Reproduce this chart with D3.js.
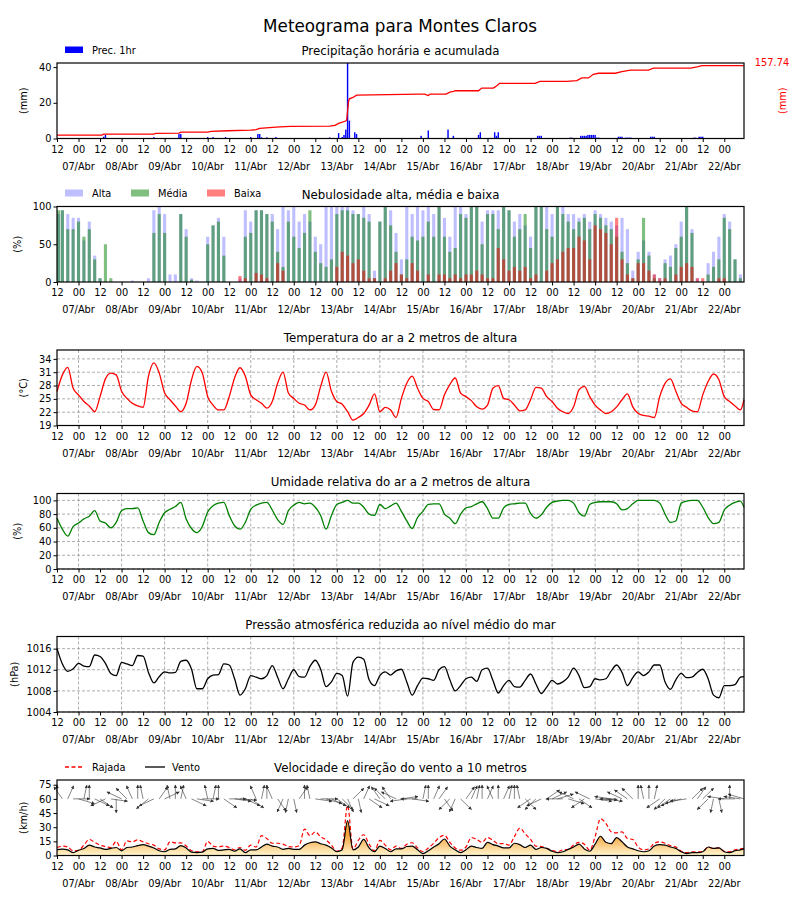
<!DOCTYPE html>
<html><head><meta charset="utf-8">
<script src="https://cdn.jsdelivr.net/npm/d3@7"></script>
<style>body{margin:0;background:#fff} svg text{font-family:"DejaVu Sans",sans-serif}</style>
</head><body><svg id="c" width="800" height="900"></svg>
<script>
// ---------------- DATA ----------------
// time axis: hours since 06/Abr 12Z
const hours = d3.range(0, 382, 3).concat([383]);
const tickHours = d3.range(0, 384, 12);
const hourLabels = tickHours.map((h, i) => i % 2 === 0 ? "12" : "00");
const dayLabels = ["07/Abr","08/Abr","09/Abr","10/Abr","11/Abr","12/Abr","13/Abr","14/Abr","15/Abr","16/Abr","17/Abr","18/Abr","19/Abr","20/Abr","21/Abr","22/Abr"];

// hourly precipitation (mm)
const precHours = [26,27,54,68,69,84,87,94,108,112,113,114,117,122,152,157,159,160,161,162,163,166,167,203,207,218,221,235,236,244,245,246,268,269,270,286,287,292,293,294,295,296,297,298,299,300,301,302,313,314,315,317,318,319,320,331,332,333,355,356,358,359,360];
const precVals  = [1,2,0.8,2.5,2.5,0.8,0.8,0.8,0.8,2.5,2.5,0.7,0.7,0.8,0.6,3,0.8,2,5,42.3,10,3.5,2.5,1.5,4.5,5,1.5,2,3.5,3.5,1.5,3.5,1.5,1.5,1.5,0.5,0.5,1.5,1.5,1.5,1.5,2,2,2,2,2,0.5,0.5,1,1,1,0.5,0.5,0.5,0.5,1,1,1,0.5,0.5,1,1,1];
// accumulated precipitation (mm)
const accHours = [0,25,26,54,55,68,69,84,86,95,108,111,113,122,130,152,155,157,161,161.5,162.5,163,165,167,202,205,207,208,217,219,221,222,235,236.8,243.3,245.2,246.7,266.5,269.3,284.2,289.8,292.6,296.3,299,301.9,311.2,314.9,319.6,329.8,332.5,353.2,356.9,359.6,383];
const accVals  = [7.3,7.3,9.5,9.5,10.9,11.7,13.8,13.8,15.3,16.8,18.2,19,21.9,24.8,26.2,27,28.4,32.8,37.9,40,80,86,89,94,96.2,96.2,93,96.2,96.2,100.6,102,103.5,103.5,109.3,109.3,114.4,119.5,119.5,123.9,123.9,125.4,131.2,131.2,139.2,141.4,141.4,145,148,148,152.3,152.3,155.3,157.74,157.74];
const accTotal = "157.74";

// cloud cover (%)
const cloudHigh = [90,95,90,85,85,55,80,35,5,0,0,0,0,0,2,0,0,5,95,100,90,10,10,90,70,5,2,0,60,75,85,60,0,0,5,95,80,95,95,90,90,70,100,95,100,80,90,80,60,50,100,100,100,100,100,95,90,100,90,15,80,100,95,65,
 30,100,90,100,95,100,90,100,85,60,100,100,90,100,100,80,95,95,95,100,95,80,90,75,60,100,100,100,90,100,100,90,90,85,90,80,95,90,85,80,75,85,70,15,40,55,40,10,5,30,35,50,80,100,70,5,0,25,40,60,90,80,30,10,0];
const cloudMid = [95,95,70,70,80,60,70,30,5,50,5,0,0,0,0,0,0,0,65,90,65,0,0,90,60,3,0,0,50,75,80,35,0,0,0,60,65,95,95,90,80,40,20,80,60,45,65,95,40,25,20,30,90,95,95,90,90,85,80,5,80,100,75,40,
 10,30,60,55,60,80,60,100,60,40,45,90,85,100,100,50,90,90,70,100,95,60,70,90,45,100,100,70,60,100,90,80,70,80,85,70,90,85,75,70,60,40,25,5,30,85,35,5,0,25,20,45,60,100,65,0,0,10,20,30,85,70,30,5,0];
const cloudLow = [0,0,0,0,0,0,0,0,0,0,0,0,0,0,0,0,0,0,0,0,0,0,0,0,0,0,0,0,0,0,0,0,0,0,8,5,0,12,10,5,0,25,15,0,0,0,0,0,0,0,0,0,20,40,35,25,30,15,5,5,0,5,15,25,
 10,5,25,15,0,10,0,10,10,5,10,5,10,10,15,10,5,5,45,30,15,20,15,20,5,10,0,15,25,30,40,45,45,60,55,30,75,70,65,50,85,30,10,5,25,25,15,10,5,5,0,10,20,25,20,5,5,0,0,5,5,0,0,0,0];

// temperature (°C)
const temp = [26.65,30.4,32.1,27.4,25.9,24.4,23.4,22.1,25.5,29.5,30.8,30.4,26.7,25.1,24.0,23.4,23.1,30.1,33.1,30.8,26.3,24.8,23.4,22.1,24.0,29.3,32.3,30.8,25.5,23.6,22.5,22.5,25.5,29.7,32.0,30.1,25.9,24.8,24.0,22.9,24.4,28.5,31.0,26.3,25.1,24.0,23.6,22.5,23.6,27.8,31.0,26.7,24.4,23.8,22.1,20.2,20.8,21.7,23.6,26.1,22.1,23.1,22.5,20.8,
 25.1,28.5,30.1,27.4,25.1,24.4,22.6,22.5,25.9,28.2,29.7,26.3,25.5,24.6,23.2,22.7,23.6,27.4,28.0,25.1,24.8,23.6,22.3,22.5,24.8,27.6,27.4,25.5,24.4,22.9,22.1,21.7,23.2,27.0,27.8,25.5,23.6,22.5,21.7,22.1,23.2,24.8,26.1,23.2,21.7,21.3,21.1,20.8,25.5,28.5,29.5,26.7,24.0,23.1,22.3,22.1,25.9,28.9,30.6,29.3,25.5,24.4,23.4,22.5,24.8];

// relative humidity (%)
const humidity = [74,58,48,62,67,73,77,85,70,67,60,68,85,88,88,89,70,53,50,68,82,87,91,97,73,59,53,62,83,92,96,97,78,63,58,68,87,93,96,97,86,72,65,85,93,97,95,96,90,78,58,78,94,97,100,96,96,90,80,78,94,88,92,96,
 84,70,59,75,84,94,95,95,80,74,66,80,89,91,95,98,88,74,74,89,94,95,96,96,81,74,79,90,97,99,100,100,96,82,77,94,97,98,98,98,95,86,88,95,100,100,100,100,96,80,68,70,96,99,100,100,90,75,66,68,86,93,97,99,90];

// sea-level pressure (hPa)
const pressure = [1016,1013.1,1011.7,1012.2,1013.2,1012.7,1012.6,1014.8,1014.5,1013.2,1011.3,1010.9,1013.4,1013.1,1012.8,1014.7,1014.6,1011.5,1009.5,1010.7,1011.6,1011.4,1011.5,1013.6,1013.8,1012.1,1008.4,1008.4,1010.3,1011.0,1011.1,1013.1,1012.9,1010.3,1007.2,1008.4,1010.9,1010.6,1010.3,1010.9,1012.8,1010.6,1008.4,1010.3,1012.0,1010.7,1010.6,1012.6,1013.8,1012.1,1008.8,1009.7,1011.3,1010.9,1007.0,1013.4,1014.4,1014.0,1010.1,1009.0,1010.9,1011.6,1011.0,1011.8,
 1012.1,1009.7,1007.2,1009.0,1010.4,1010.3,1010.0,1012.0,1012.6,1010.1,1008.0,1009.0,1010.3,1010.6,1009.8,1012.0,1012.3,1010.0,1007.6,1009.0,1010.0,1008.8,1008.7,1010.0,1011.2,1009.3,1007.5,1008.7,1010.0,1009.3,1009.7,1010.6,1012.3,1010.9,1008.6,1008.8,1010.3,1010.1,1010.3,1011.8,1012.9,1011.5,1009.0,1010.5,1011.6,1010.9,1011.6,1012.9,1012.9,1009.7,1008.3,1010.1,1011.3,1010.5,1010.6,1011.5,1012.1,1010.3,1007.2,1006.7,1009.0,1009.0,1009.2,1010.6,1010.7];

// wind speed, gust (km/h) and direction the arrow points (deg, 0 = up)
const wind = [6.3,6.7,6,3,5.6,7.5,11,9,8,6.5,7.5,8.5,5,8.5,9,10.5,11.5,10,8,5,4,6.5,7,10.5,8,3.5,3,3.5,7,7.5,5.5,6,6.5,4.5,7,3,6,6,9,12,10,9,6.5,7.5,6.5,6.5,11,13.5,14.5,12.5,11,8,4,6,37,6,9,17,8,4,10,7.5,4,7,
 7,9.5,10,6,2,5,9,12.5,17.5,10,6,3,6,10,8.5,7.5,14,11.5,10,8,8,13,11.5,8.5,11,6.5,8.5,7.5,4.5,3,4,6.5,9,12,7,4.5,12,20.4,14,12.5,19,14.5,9,7,5,4,5,10,11.5,11,9,7.5,4,2,3,3,4,9,7.5,8,4,3,5,6,7];
const gust = [8.5,10,9,5,5.6,11,17,14,11,9.5,8.5,15,6,15.5,14.5,16.5,14.5,12.5,11,7,6,14.5,13.4,13.4,10,5,4,4,15,10,9.2,10,8.5,6,8.5,5.5,11,9,21,18,13,13,12,9.5,9,10.5,28,21,25,20,16.5,11,4.5,8,53,7,16,22,12,5,16,11,6,10,
 7.5,12,13.5,8,4,8,13,19,21.5,14,8,5.6,9,19,17,14,19,16,12.5,12.5,11,20,29,23,17,10,9.5,7.5,5.6,4,6,6.5,11,14,12,5.5,20,39,34,25,24,25,18,17,9,6,7,13,14.4,13,10.5,9,4.5,3,4,4,4,9,7.5,8,4.5,4,6,7,7.5];
const windDir = [0,330,20,90,110,10,0,120,130,240,100,180,300,320,340,0,350,225,240,30,60,350,0,10,340,120,100,90,350,10,0,130,90,100,95,120,130,340,10,0,340,150,200,190,170,30,0,350,100,90,110,120,130,140,160,40,170,20,130,120,330,320,330,300,
 80,260,100,270,10,0,20,30,150,220,200,140,30,20,10,0,20,340,0,20,10,0,350,140,230,220,240,50,60,70,270,110,300,130,230,300,100,95,100,280,270,300,310,320,0,350,0,10,230,220,230,240,250,260,40,30,40,220,190,170,280,0,270,280,290];

// ---------------- DRAWING ----------------
const svg = d3.select('#c');
const X0 = 57, X1 = 744, H = 75.5;
const x = d3.scaleLinear().domain([0, 383]).range([X0, X1]);
const FS = 9.8;
const curve = d3.curveMonotoneX;

svg.append('text').attr('x', 400).attr('y', 32).attr('text-anchor', 'middle')
  .attr('font-size', 16.8).text('Meteograma para Montes Claros');

const frames = [];
function addPanel(top, title, yDomain, yTicks, ylabel, labelX, grid) {
  const bottom = top + H;
  const y = d3.scaleLinear().domain(yDomain).range([bottom, top]);
  const g = svg.append('g');
  g.append('text').attr('x', (X0 + X1) / 2).attr('y', top - 8).attr('text-anchor', 'middle')
    .attr('font-size', 11.8).text(title);
  if (grid) {
    const gg = g.append('g').attr('stroke', '#999').attr('stroke-width', 0.8).attr('stroke-dasharray', '3,2');
    yTicks.forEach(t => gg.append('line').attr('x1', X0).attr('x2', X1).attr('y1', y(t)).attr('y2', y(t)));
    tickHours.filter((h, i) => i % 2 === 1).forEach(h =>
      gg.append('line').attr('x1', x(h)).attr('x2', x(h)).attr('y1', top).attr('y2', bottom));
  }
  const ya = g.append('g').attr('transform', `translate(${X0},0)`)
    .call(d3.axisLeft(y).tickValues(yTicks).tickSize(3.5).tickPadding(2).tickSizeOuter(0).tickFormat(d3.format('d')));
  ya.select('.domain').remove();
  ya.selectAll('text').attr('font-size', FS).attr('font-family', '"DejaVu Sans",sans-serif').attr('fill', '#000');
  const xa = g.append('g').attr('transform', `translate(0,${bottom})`)
    .call(d3.axisBottom(x).tickValues(tickHours).tickSize(3.5).tickPadding(4).tickSizeOuter(0)
      .tickFormat((h, i) => hourLabels[i]));
  xa.select('.domain').remove();
  xa.selectAll('text').attr('font-size', FS).attr('font-family', '"DejaVu Sans",sans-serif').attr('fill', '#000');
  tickHours.forEach((h, i) => {
    if (i % 2 === 1) {
      g.append('text').attr('x', x(h)).attr('y', bottom + 31).attr('text-anchor', 'middle')
        .attr('font-size', FS).text(dayLabels[(i - 1) / 2]);
    }
  });
  g.append('text').attr('transform', `translate(${labelX},${(top + bottom) / 2}) rotate(-90)`)
    .attr('text-anchor', 'middle').attr('dy', '0.35em').attr('font-size', FS).text(ylabel);
  const marks = g.append('g');
  frames.push({top, bottom});
  return {g: marks, y, top, bottom};
}

const tops = [63, 206.5, 350, 493.5, 636.5, 780];

// Panel 1: precipitation
{
  const p = addPanel(tops[0], 'Precipitação horária e acumulada', [0, 42.3], [0, 20, 40], '(mm)', 24, false);
  const yr = d3.scaleLinear().domain([0, 163.6]).range([p.bottom, p.top]);
  const bw = (x(1) - x(0)) * 0.8;
  p.g.selectAll('rect').data(precHours).enter().append('rect')
    .attr('x', (h) => x(h) - bw / 2).attr('width', bw)
    .attr('y', (h, i) => p.y(precVals[i])).attr('height', (h, i) => p.bottom - p.y(precVals[i]))
    .attr('fill', '#0000ff');
  p.g.append('path').datum(accHours)
    .attr('d', d3.line().x(h => x(h)).y((h, i) => yr(accVals[i])))
    .attr('fill', 'none').attr('stroke', '#ff0000').attr('stroke-width', 1.3);
  svg.append('text').attr('x', 772).attr('y', 66).attr('text-anchor', 'middle').attr('font-size', FS)
    .attr('fill', '#ff0000').text(accTotal);
  svg.append('text').attr('transform', `translate(783,${(p.top + p.bottom) / 2}) rotate(-90)`)
    .attr('text-anchor', 'middle').attr('dy', '0.35em').attr('font-size', FS).attr('fill', '#ff0000').text('(mm)');
  svg.append('rect').attr('x', 65).attr('y', 46.5).attr('width', 18).attr('height', 6.5).attr('fill', '#0000ff');
  svg.append('text').attr('x', 92).attr('y', 53.5).attr('font-size', FS).text('Prec. 1hr');
}

// Panel 2: clouds
{
  const p = addPanel(tops[1], 'Nebulosidade alta, média e baixa', [0, 100], [0, 50, 100], '(%)', 18, false);
  const bw = (x(3) - x(0)) * 0.58;
  const series = [[cloudHigh, '#0000ff', 0.25], [cloudMid, '#008000', 0.5], [cloudLow, '#ff0000', 0.5]];
  series.forEach(([vals, col, op]) => {
    p.g.append('g').selectAll('rect').data(hours).enter().append('rect')
      .attr('x', h => Math.max(X0, x(h) - bw / 2)).attr('width', bw)
      .attr('y', (h, i) => p.y(vals[i])).attr('height', (h, i) => p.bottom - p.y(vals[i]))
      .attr('fill', col).attr('fill-opacity', op);
  });
  const leg = [['Alta', '#0000ff', 0.25, 65], ['Média', '#008000', 0.5, 131], ['Baixa', '#ff0000', 0.5, 207]];
  leg.forEach(([t, c, o, lx]) => {
    svg.append('rect').attr('x', lx).attr('y', 189.5).attr('width', 18).attr('height', 7).attr('fill', c).attr('fill-opacity', o);
    svg.append('text').attr('x', lx + 27).attr('y', 197).attr('font-size', FS).text(t);
  });
}

// Panel 3: temperature
{
  const p = addPanel(tops[2], 'Temperatura do ar a 2 metros de altura', [19, 36], [19, 22, 25, 28, 31, 34], '(°C)', 24, true);
  p.g.append('path').datum(hours).attr('d', d3.line().curve(curve).x(h => x(h)).y((h, i) => p.y(temp[i])))
    .attr('fill', 'none').attr('stroke', '#ff0000').attr('stroke-width', 1.3);
}

// Panel 4: humidity
{
  const p = addPanel(tops[3], 'Umidade relativa do ar a 2 metros de altura', [0, 110], [0, 20, 40, 60, 80, 100], '(%)', 18, true);
  p.g.append('path').datum(hours).attr('d', d3.line().curve(curve).x(h => x(h)).y((h, i) => p.y(humidity[i])))
    .attr('fill', 'none').attr('stroke', '#008000').attr('stroke-width', 1.3);
}

// Panel 5: pressure
{
  const p = addPanel(tops[4], 'Pressão atmosférica reduzida ao nível médio do mar', [1004, 1018.3], [1004, 1008, 1012, 1016], '(hPa)', 15, true);
  p.g.append('path').datum(hours).attr('d', d3.line().curve(curve).x(h => x(h)).y((h, i) => p.y(pressure[i])))
    .attr('fill', 'none').attr('stroke', '#000').attr('stroke-width', 1.3);
}

// Panel 6: wind
{
  const p = addPanel(tops[5], 'Velocidade e direção do vento a 10 metros', [0, 80], [0, 15, 30, 45, 60, 75], '(km/h)', 24, false);
  const defs = svg.append('defs');
  const grad = defs.append('linearGradient').attr('id', 'wg').attr('gradientUnits', 'userSpaceOnUse')
    .attr('x1', 0).attr('x2', 0).attr('y1', p.y(0)).attr('y2', p.y(22));
  grad.append('stop').attr('offset', 0).attr('stop-color', '#fff6cf');
  grad.append('stop').attr('offset', 1).attr('stop-color', '#f6a23a');
  defs.append('marker').attr('id', 'ah').attr('viewBox', '0 0 10 10').attr('refX', 9).attr('refY', 5)
    .attr('markerWidth', 3.5).attr('markerHeight', 3.5).attr('markerUnits', 'userSpaceOnUse').attr('orient', 'auto')
    .append('path').attr('d', 'M0,0L10,5L0,10z').attr('fill', '#333');
  p.g.append('path').datum(hours)
    .attr('d', d3.area().curve(curve).x(h => x(h)).y0(p.y(0)).y1((h, i) => p.y(wind[i])))
    .attr('fill', 'url(#wg)');
  p.g.append('path').datum(hours).attr('d', d3.line().curve(curve).x(h => x(h)).y((h, i) => p.y(gust[i])))
    .attr('fill', 'none').attr('stroke', '#ff0000').attr('stroke-width', 1.2).attr('stroke-dasharray', '4,2.5');
  p.g.append('path').datum(hours).attr('d', d3.line().curve(curve).x(h => x(h)).y((h, i) => p.y(wind[i])))
    .attr('fill', 'none').attr('stroke', '#000').attr('stroke-width', 1.2);
  const by = p.y(60);
  p.g.append('g').selectAll('line').data(hours).enter().append('line')
    .attr('x1', h => x(h)).attr('y1', by)
    .attr('x2', (h, i) => x(h) + 17 * Math.sin(windDir[i] * Math.PI / 180))
    .attr('y2', (h, i) => by - 14 * Math.cos(windDir[i] * Math.PI / 180))
    .attr('stroke', '#333').attr('stroke-width', 0.6).attr('marker-end', 'url(#ah)');
  svg.append('line').attr('x1', 65).attr('x2', 84).attr('y1', 767).attr('y2', 767)
    .attr('stroke', '#ff0000').attr('stroke-width', 1.3).attr('stroke-dasharray', '4,2.5');
  svg.append('text').attr('x', 92).attr('y', 771).attr('font-size', FS).text('Rajada');
  svg.append('line').attr('x1', 145).attr('x2', 165).attr('y1', 767).attr('y2', 767)
    .attr('stroke', '#000').attr('stroke-width', 1.3);
  svg.append('text').attr('x', 172).attr('y', 771).attr('font-size', FS).text('Vento');
}

frames.forEach(f => svg.append('rect').attr('x', X0).attr('y', f.top).attr('width', X1 - X0)
  .attr('height', f.bottom - f.top).attr('fill', 'none').attr('stroke', '#000').attr('stroke-width', 1.2));
</script></body></html>
